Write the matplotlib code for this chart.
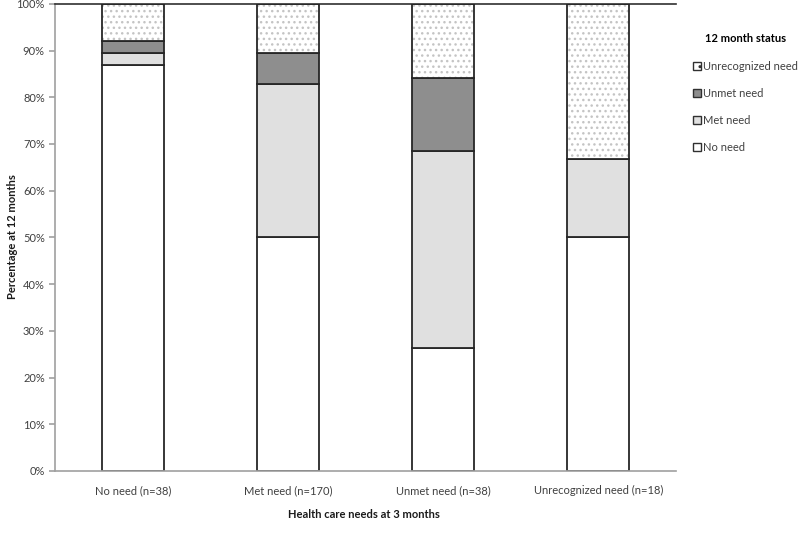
import matplotlib
matplotlib.use("Agg")
import matplotlib.pyplot as plt
from matplotlib.patches import Patch
import numpy as np

plt.rcParams['font.family'] = ['Lato', 'DejaVu Sans']
plt.rcParams['hatch.linewidth'] = 1.0

categories = ["No need (n=38)", "Met need (n=170)", "Unmet need (n=38)", "Unrecognized need (n=18)"]
no_need = [86.8, 50.0, 26.3, 50.0]
met_need = [2.6, 32.9, 42.1, 16.7]
unmet_need = [2.6, 6.5, 15.8, 0.0]
unrecognized_need = [7.9, 10.6, 15.8, 33.3]
yticks = [0, 10, 20, 30, 40, 50, 60, 70, 80, 90, 100]

fig = plt.figure(figsize=(8, 5.47), dpi=100)
ax = fig.add_axes([0.069, 0.139, 0.776, 0.854])

x = np.arange(len(categories))
w = 0.40
edge = '#262626'
lw = 1.3

b0 = np.zeros(len(x))
b1 = b0 + np.array(no_need)
b2 = b1 + np.array(met_need)
b3 = b2 + np.array(unmet_need)

ax.bar(x, no_need, w, bottom=b0, color='white', edgecolor=edge, linewidth=lw, zorder=2)
ax.bar(x, met_need, w, bottom=b1, color='#e0e0e0', edgecolor=edge, linewidth=lw, zorder=2)
ax.bar(x, unmet_need, w, bottom=b2, color='#8e8e8e', edgecolor=edge, linewidth=lw, zorder=2)
ax.bar(x, unrecognized_need, w, bottom=b3, color='white', edgecolor='#c4c4c4', linewidth=0, hatch='...', zorder=2)
ax.bar(x, unrecognized_need, w, bottom=b3, fill=False, edgecolor=edge, linewidth=lw, zorder=3)

ax.set_xlim(-0.5, len(x) - 0.5)
ax.set_ylim(0, 100)
ax.set_yticks(yticks)
ax.set_yticklabels([f"{t}%" for t in yticks], fontsize=8, color='#404040')
ax.set_xticks(x)
ax.set_xticklabels(categories, fontsize=8, color='#404040')
ax.tick_params(axis='x', length=0, pad=10)
ax.tick_params(axis='y', length=4, color='#a0a0a0', width=1.2)

ax.spines['right'].set_visible(False)
ax.spines['top'].set_color('#303030')
ax.spines['top'].set_linewidth(1.2)
ax.spines['left'].set_color('#a0a0a0')
ax.spines['bottom'].set_color('#a0a0a0')
ax.spines['left'].set_linewidth(1.2)
ax.spines['bottom'].set_linewidth(1.2)

fig.text(13 / 800, 1 - 237 / 547, "Percentage at 12 months", rotation=90,
         ha='center', va='center', fontsize=8, fontweight='bold', color='#1a1a1a')
fig.text(364 / 800, 1 - 514 / 547, "Health care needs at 3 months",
         ha='center', va='center', fontsize=8, fontweight='bold', color='#1a1a1a')

handles = [
    Patch(facecolor='white', edgecolor='#303030', hatch='..', label='Unrecognized need'),
    Patch(facecolor='#8e8e8e', edgecolor='#303030', label='Unmet need'),
    Patch(facecolor='#e0e0e0', edgecolor='#303030', label='Met need'),
    Patch(facecolor='white', edgecolor='#303030', label='No need'),
]
leg = fig.legend(handles=handles, title='12 month status', loc='upper left',
                 bbox_to_anchor=(0.861, 0.947), frameon=False, fontsize=8,
                 title_fontproperties={'weight': 'bold', 'size': 8},
                 handlelength=0.7, handleheight=0.7, handletextpad=0.2,
                 labelspacing=1.45, borderaxespad=0)
for t in leg.get_texts():
    t.set_color('#404040')

fig.savefig("out.png", dpi=100)
